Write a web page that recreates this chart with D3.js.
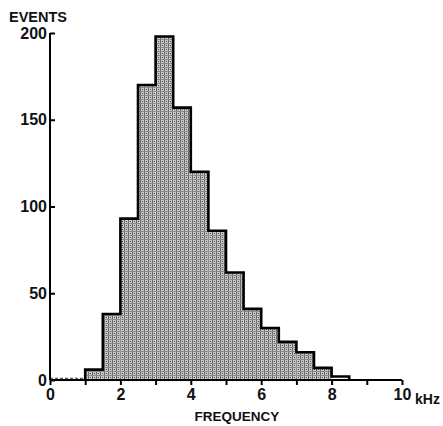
<!DOCTYPE html>
<html>
<head>
<meta charset="utf-8">
<script src="https://cdn.jsdelivr.net/npm/d3@7"></script>
<style>
  body { margin: 0; background: #fff; }
  text { font-family: "Liberation Sans", Arial, sans-serif; font-weight: bold; fill: #111; }
</style>
</head>
<body>
<div id="chart"></div>
<script>
// bin left edges (kHz), 0.5 kHz wide
var binStart = [0, 0.5, 1.0, 1.5, 2.0, 2.5, 3.0, 3.5, 4.0, 4.5, 5.0, 5.5, 6.0, 6.5, 7.0, 7.5, 8.0];
var events   = [1, 1, 6, 38, 93, 170, 198, 157, 120, 86, 62, 41, 30, 22, 16, 7, 2];
var binWidth = 0.5;
var xTicks = [0, 1, 2, 3, 4, 5, 6, 7, 8, 9, 10];
var yTicks = [0, 50, 100, 150, 200];

var width = 443, height = 426;

var svg = d3.select('#chart')
    .append('svg')
        .attr('width', width)
        .attr('height', height);

var xScale = d3.scaleLinear()
    .domain([0, 10])
    .range([50, 402]);

var yScale = d3.scaleLinear()
    .domain([0, 200])
    .range([380, 33]);

// stipple pattern for the bars
var defs = svg.append('defs');
var pat = defs.append('pattern')
    .attr('id', 'stipple')
    .attr('width', 4).attr('height', 4)
    .attr('patternUnits', 'userSpaceOnUse');
pat.append('rect').attr('width', 4).attr('height', 4).attr('fill', '#c8c8c8');
pat.append('rect').attr('x', 0).attr('y', 0).attr('width', 1).attr('height', 4).attr('fill', '#666');
pat.append('rect').attr('x', 2).attr('y', 1).attr('width', 1).attr('height', 1).attr('fill', '#444');
pat.append('rect').attr('x', 0).attr('y', 3).attr('width', 4).attr('height', 1).attr('fill', '#8a8a8a');

// filled bars
svg.selectAll('rect.bar')
    .data(events)
    .enter()
    .append('rect')
        .attr('class', 'bar')
        .attr('x', function(d, i) { return xScale(binStart[i]); })
        .attr('y', function(d) { return yScale(d); })
        .attr('width', function(d, i) { return xScale(binStart[i] + binWidth) - xScale(binStart[i]); })
        .attr('height', function(d) { return yScale(0) - yScale(d); })
        .attr('fill', function(d, i) { return binStart[i] >= 1 && binStart[i] < 8 ? 'url(#stipple)' : 'none'; });

// step outline of the histogram (starting at 1 kHz)
var pts = [];
binStart.forEach(function(b, i) {
    if (b < 1) return;
    pts.push([xScale(b), yScale(events[i])]);
    pts.push([xScale(b + binWidth), yScale(events[i])]);
});
pts.unshift([xScale(1), yScale(0)]);
pts.push([xScale(binStart[binStart.length - 1] + binWidth), yScale(0)]);

svg.append('path')
    .attr('d', d3.line()(pts))
    .attr('fill', 'none')
    .attr('stroke', '#000')
    .attr('stroke-width', 2.6)
    .attr('stroke-linejoin', 'miter');

// faint low values below 1 kHz
svg.append('path')
    .attr('d', d3.line()([[xScale(0), yScale(events[0])], [xScale(1), yScale(events[1])]]))
    .attr('stroke', '#333')
    .attr('stroke-width', 1)
    .attr('stroke-dasharray', '3,2');

// x axis
var xAxis = d3.axisBottom(xScale)
    .tickValues(xTicks)
    .tickSize(5)
    .tickPadding(4)
    .tickFormat(function(d) { return d % 2 === 0 ? d : ''; });
var gx = svg.append('g')
    .attr('transform', 'translate(0,' + yScale(0) + ')')
    .call(xAxis);
gx.select('.domain').attr('stroke', '#000').attr('stroke-width', 2).attr('d', 'M' + xScale(0) + ',0H' + xScale(10));
gx.selectAll('.tick line').attr('stroke', '#000').attr('stroke-width', 2);
gx.selectAll('.tick text').style('font-size', '16px').attr('fill', '#111');

svg.append('text')
    .attr('x', xScale(10) + 13)
    .attr('y', yScale(0) + 24)
    .style('font-size', '14px')
    .text('kHz');

// y axis
var yAxis = d3.axisRight(yScale)
    .tickValues(yTicks)
    .tickSize(5);
var gy = svg.append('g')
    .attr('transform', 'translate(' + xScale(0) + ',0)')
    .call(yAxis);
gy.select('.domain').attr('stroke', '#000').attr('stroke-width', 2).attr('d', 'M0,' + yScale(200) + 'V' + yScale(0));
gy.selectAll('.tick line').attr('stroke', '#000').attr('stroke-width', 2);
gy.selectAll('.tick text')
    .attr('x', -3)
    .attr('text-anchor', 'end')
    .style('font-size', '16px')
    .attr('fill', '#111');

// axis titles
svg.append('text')
    .attr('x', 9)
    .attr('y', 22)
    .style('font-size', '14.5px')
    .text('EVENTS');

svg.append('text')
    .attr('x', 237)
    .attr('y', 421)
    .attr('text-anchor', 'middle')
    .style('font-size', '13.5px')
    .text('FREQUENCY');
</script>
</body>
</html>
